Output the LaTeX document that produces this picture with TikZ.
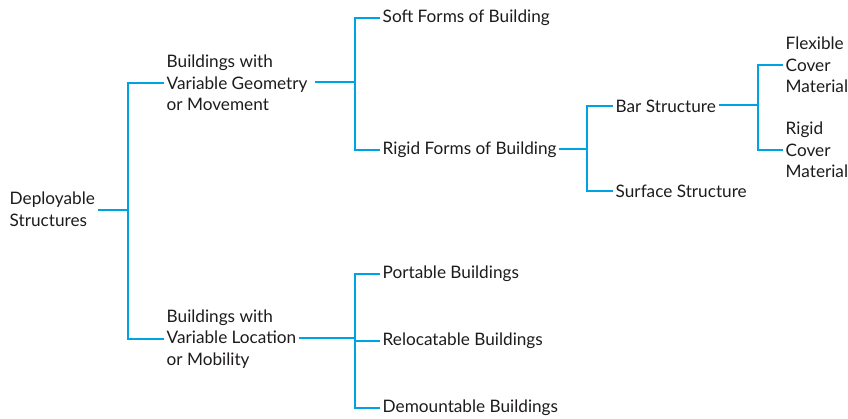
\documentclass[tikz,border=0pt]{standalone}
\usepackage{fontspec}
\setmainfont{Lato}
\definecolor{linkblue}{RGB}{0,162,230}
\definecolor{txt}{RGB}{30,27,28}
\begin{document}
\begin{tikzpicture}[x=1pt,y=-1pt,
  lbl/.style={anchor=west,inner xsep=2.5pt,inner ysep=0pt,align=left,text=txt,
    font=\fontsize{17.2}{21.5}\selectfont},
  conn/.style={draw=linkblue,line width=2.9pt,line join=miter,line cap=butt}]
\useasboundingbox (0,0) rectangle (848,418);
\clip (0,0) rectangle (848,418);
% nodes
\node[lbl] (root) at (7,209) {Deployable\\Structures};
\node[lbl] (geo) at (164,83) {Buildings with\\Variable Geometry\\or Movement};
\node[lbl] (loc) at (164,339) {Buildings with\\Variable Location\\or Mobility};
\node[lbl] (soft) at (380,18) {Soft Forms of Building};
\node[lbl] (rigid) at (380,150) {Rigid Forms of Building};
\node[lbl] (bar) at (613,106) {Bar Structure};
\node[lbl] (surf) at (613,191) {Surface Structure};
\node[lbl] (flex) at (783,65) {Flexible\\Cover\\Material};
\node[lbl] (rcov) at (783,150) {Rigid\\Cover\\Material};
\node[lbl] (port) at (380,274) {Portable Buildings};
\node[lbl] (reloc) at (380,341) {Relocatable Buildings};
\node[lbl] (dem) at (380,408) {Demountable Buildings};
% junctions
\coordinate (j1) at (128,210);
\coordinate (j2) at (355,82);
\coordinate (j3) at (587,149);
\coordinate (j4) at (758,105);
\coordinate (j5) at (355,338);
% connectors
\draw[conn] (root.east |- j1) -- (j1);
\draw[conn] (geo.west) -| (j1) |- (loc.west);
\draw[conn] ([xshift=5pt]geo.east |- j2) -- (j2);
\draw[conn] (soft.west) -| (j2) |- (rigid.west);
\draw[conn] (rigid.east |- j3) -- (j3);
\draw[conn] (bar.west) -| (j3) |- (surf.west);
\draw[conn] (bar.east |- j4) -- (j4);
\draw[conn] (flex.west) -| (j4) |- (rcov.west);
\draw[conn] (loc.east |- j5) -- (j5);
\draw[conn] (port.west) -| (j5) |- (dem.west);
\draw[conn] (j5 |- reloc.west) -- (reloc.west);
\end{tikzpicture}
\end{document}
